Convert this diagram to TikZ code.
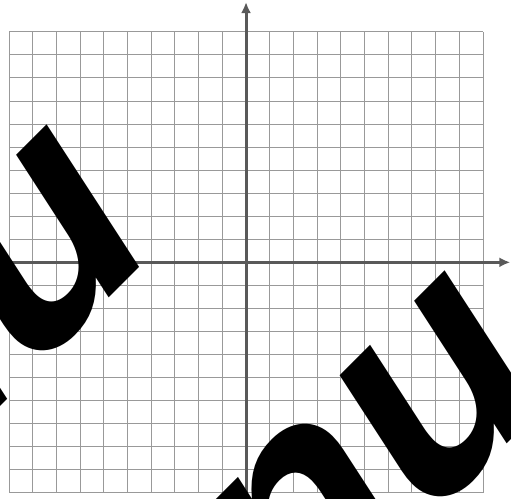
\documentclass[tikz,border=0pt]{standalone}
\usepackage{fontspec}
\setmainfont{TeX Gyre Heros}
\usetikzlibrary{arrows.meta}

\begin{document}
\begin{tikzpicture}[x=23.7pt,y=23.05pt,
    gridline/.style={line width=0.9pt,black!40,xstep=23.7pt,ystep=23.05pt},
    axisline/.style={line width=3pt,black!65,-{Latex[length=11pt,width=10pt]}},
    bigword/.style={font=\fontsize{308}{308}\selectfont\bfseries\itshape,inner sep=0pt,anchor=base west,rotate=45}]

    % 画布范围
    \useasboundingbox (-10.38,-10.23) rectangle (11.18,11.38);
    \clip (-10.38,-10.23) rectangle (11.18,11.38);

    % 画网格
    \draw[gridline] (-10,-10) grid (10,10);

    % 画坐标轴
    \coordinate (xstart) at (-10,0);
    \coordinate (xend) at (11.15,0);
    \coordinate (ystart) at (0,-10);
    \coordinate (yend) at (0,11.29);
    \draw[axisline] (xstart) -- (xend);
    \draw[axisline] (ystart) -- (yend);

    % 插入文字
    \node[bigword] (nuA) at (-14.70,-10.715) {nu};
    \node[bigword] (nuB) at (2.07,-17.075) {nu};

\end{tikzpicture}
\end{document}
